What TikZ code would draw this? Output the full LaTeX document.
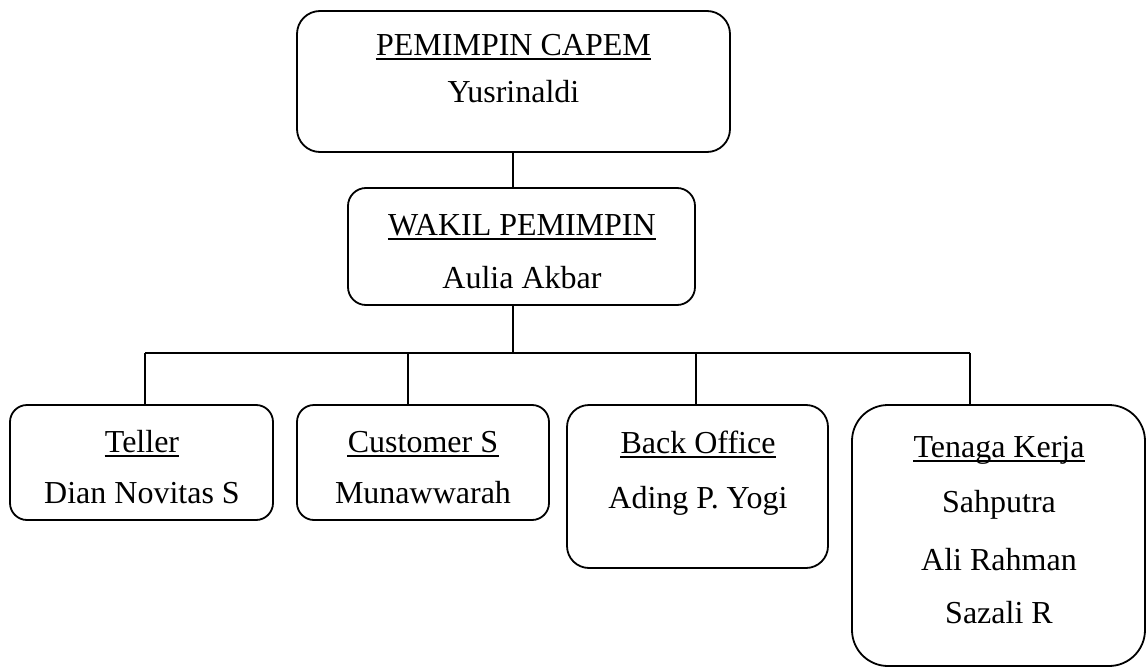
\documentclass[tikz,border=0pt]{standalone}
\usepackage{fontspec}
\setmainfont{Liberation Serif}
\usetikzlibrary{fit}
\begin{document}
\begin{tikzpicture}[x=0.5pt,y=-0.5pt,
  box/.style={draw, line width=0.9pt, inner sep=0pt, fit={#1}},
  txt/.style={inner sep=0pt, anchor=base, font=\fontsize{16}{19}\selectfont},
  uline/.style={line width=0.75pt},
  conn/.style={line width=0.9pt}]
\useasboundingbox (0,0) rectangle (1147,669);
% boxes
\node[box={(297,11) (730,152)}, rounded corners=11.5pt] (top) {};
\node[box={(348,188) (695,305)}, rounded corners=9pt] (wakil) {};
\node[box={(10,405) (273,520)}, rounded corners=8.5pt] (teller) {};
\node[box={(297,405) (549,520)}, rounded corners=8.5pt] (cust) {};
\node[box={(567,405) (828,568)}, rounded corners=11pt] (back) {};
\node[box={(852,405) (1145,666)}, rounded corners=18pt] (tenaga) {};
% texts
\node[txt] (t1) at (513.5,55) {PEMIMPIN CAPEM};
\node[txt] (n1) at (513.5,102) {Yusrinaldi};
\node[txt] (t2) at (522,235) {WAKIL PEMIMPIN};
\node[txt] (n2) at (522,288) {Aulia Akbar};
\node[txt] (t3) at (142,452) {Teller};
\node[txt] (n3) at (142,503) {Dian Novitas S};
\node[txt] (t4) at (423,452) {Customer S};
\node[txt] (n4) at (423,503) {Munawwarah};
\node[txt] (t5) at (698,453) {Back Office};
\node[txt] (n5) at (698,508) {Ading P. Yogi};
\node[txt] (t6) at (999,457) {Tenaga Kerja};
\node[txt] (n6a) at (999,512) {Sahputra};
\node[txt] (n6b) at (999,570) {Ali Rahman};
\node[txt] (n6c) at (999,623) {Sazali R};
% underlines
\foreach \t in {t1,t2,t3,t4,t5,t6}
  \draw[uline] ([yshift=-2pt]\t.base west) -- ([yshift=-2pt]\t.base east);
% connectors
\coordinate (bus) at (513,353);
\coordinate (b1) at (145,353);
\coordinate (b2) at (408,353);
\coordinate (b3) at (696,353);
\coordinate (b4) at (970,353);
\draw[conn] (top.south -| bus) -- (wakil.north -| bus);
\draw[conn] (wakil.south -| bus) -- (bus);
\draw[conn] (b1) -- (b4);
\draw[conn] (b1) -- (b1 |- teller.north);
\draw[conn] (b2) -- (b2 |- cust.north);
\draw[conn] (b3) -- (b3 |- back.north);
\draw[conn] (b4) -- (b4 |- tenaga.north);
\end{tikzpicture}
\end{document}
